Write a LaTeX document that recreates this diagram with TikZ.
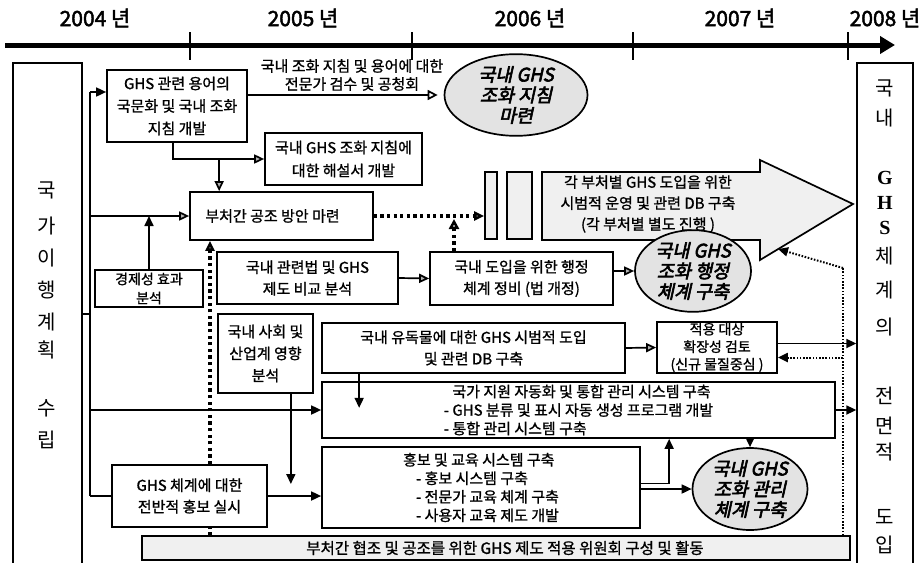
\documentclass[tikz,border=0pt]{standalone}
\usepackage{fontspec}
\setmainfont{Noto Sans CJK KR}
\newfontfamily\kr{Noto Sans CJK KR}[FakeBold=1.1]
\newfontfamily\krl{Noto Sans CJK KR}
\newfontfamily\krb{Noto Sans CJK KR}[FakeBold=2.2]
\newfontfamily\krbi{Noto Sans CJK KR}[FakeBold=3.2,FakeSlant=0.22]
\newfontfamily\serifb{Liberation Serif}
\usetikzlibrary{arrows.meta,shapes.geometric,calc}
\begin{document}
\begin{tikzpicture}[x=1pt,y=-1pt,
  box/.style={draw, line width=1.7pt, fill=white, inner sep=1pt, align=center,
    font=\kr\fontsize{15}{21.5}\selectfont},
  sidebox/.style={draw, line width=1.3pt, fill=white, inner sep=0pt},
  ell/.style={ellipse, draw, line width=1.7pt, fill=gray!22, inner sep=0pt, align=center,
    font=\krbi\fontsize{18.5}{20.5}\selectfont},
  year/.style={font=\krb\fontsize{21}{21}\selectfont, inner sep=0pt},
  vchar/.style={font=\krl\fontsize{20}{20}\selectfont, inner sep=0pt},
  conn/.style={line width=1.7pt},
  barrow/.style={conn, -{Triangle[length=10pt,width=9pt]}},
  garrow/.style={conn, -{Triangle[length=10pt,width=9pt,fill=gray!60]}},
  oarrow/.style={conn, -{Triangle[length=10pt,width=10pt,fill=white]}},
  heavydots/.style={line width=3.4pt, dash pattern=on 3.2pt off 3.4pt},
  finedots/.style={line width=1.4pt, dash pattern=on 1.6pt off 1.6pt},
  lbl/.style={font=\kr\fontsize{15}{18}\selectfont, align=center, inner sep=0pt}
]
\useasboundingbox (0,0) rectangle (923,562);

% timeline
\coordinate (tlA) at (5,45);
\coordinate (tlB) at (895,45);
\draw[line width=5pt, -{Triangle[length=15pt,width=17pt]}] (tlA) -- (tlB);
\foreach \x in {190,412,633,848} \draw[line width=2pt] (\x,32) -- (\x,60);
\node[year] (y2004) at (95,18) {2004 년};
\node[year] (y2005) at (303,18) {2005 년};
\node[year] (y2006) at (530,18) {2006 년};
\node[year] (y2007) at (740,18) {2007 년};
\node[year] (y2008) at (885,18) {2008 년};

% side boxes
\node[sidebox, minimum width=69pt, minimum height=505pt] (lbox) at (47.5,315.5) {};
\node[sidebox, minimum width=56pt, minimum height=505pt] (rbox) at (885,315.5) {};
\foreach \c/\yy [count=\i] in {국/190,가/226,이/258,행/290,계/322,획/350,수/408,립/440}
  \node[vchar] (lc\i) at (47,\yy) {\c};
\foreach \c/\yy [count=\i] in {국/88,내/118,체/256,계/290,의/327,전/396,면/426,적/452,도/517,입/545}
  \node[vchar] (rc\i) at (885,\yy) {\c};
\foreach \c/\yy [count=\i] in {G/178,H/203,S/228}
  \node[vchar, font=\serifb\bfseries\fontsize{20}{20}\selectfont] (rl\i) at (885,\yy) {\c};

% big arrow
\draw[line width=1.7pt, fill=gray!12] (542,172) -- (760,172) -- (760,160) -- (853,204)
  -- (760,260) -- (760,240) -- (542,240) -- cycle;
\node[lbl, font=\kr\fontsize{15}{21}\selectfont] (bigtxt) at (648,204)
  {각 부처별 GHS 도입을 위한\\시범적 운영 및 관련 DB 구축\\(각 부처별 별도 진행 )};
\coordinate (bigin) at (778,249);

% small rectangles
\node[draw, line width=1.7pt, fill=gray!12, minimum width=12pt, minimum height=67pt, inner sep=0pt] (r1) at (491,205.5) {};
\node[draw, line width=1.7pt, fill=gray!12, minimum width=25pt, minimum height=67pt, inner sep=0pt] (r2) at (519.5,205.5) {};

% boxes
\node[box, minimum width=140pt, minimum height=72pt, font=\kr\fontsize{15}{22.5}\selectfont] (box1) at (177,106)
  {GHS 관련 용어의\\국문화 및 국내 조화\\지침 개발};
\node[box, minimum width=157pt, minimum height=52pt, font=\kr\fontsize{15}{23}\selectfont] (box2) at (343.5,159)
  {국내 GHS 조화 지침에\\대한 해설서 개발};
\node[box, minimum width=183pt, minimum height=48pt] (coop) at (281.5,216)
  {\hspace*{-18pt}부처간 공조 방안 마련};
\node[box, minimum width=108pt, minimum height=37pt, font=\kr\fontsize{14}{19}\selectfont] (econ) at (149,288.5)
  {경제성 효과\\분석};
\node[box, minimum width=181pt, minimum height=52pt] (law) at (307.5,278)
  {국내 관련법 및 GHS\\제도 비교 분석};
\node[box, minimum width=183pt, minimum height=53pt] (admin) at (521.5,278.5)
  {국내 도입을 위한 행정\\체계 정비 (법 개정)};
\node[box, minimum width=95pt, minimum height=79pt, font=\kr\fontsize{15}{22}\selectfont] (social) at (265.5,353.5)
  {국내 사회 및\\산업계 영향\\분석};
\node[box, minimum width=303pt, minimum height=50pt] (toxic) at (473.5,348)
  {국내 유독물에 대한 GHS 시범적 도입\\및 관련 DB 구축};
\node[box, minimum width=120pt, minimum height=49pt, font=\kr\fontsize{14}{17.5}\selectfont] (scope) at (717,347.5)
  {적용 대상\\확장성 검토\\(신규 물질중심 )};
\node[box, minimum width=513pt, minimum height=56pt, align=left, font=\kr\fontsize{15}{18.5}\selectfont] (auto) at (578.5,410)
  {\phantom{- }국가 지원 자동화 및 통합 관리 시스템 구축\\- GHS 분류 및 표시 자동 생성 프로그램 개발\\- 통합 관리 시스템 구축};
\node[box, minimum width=155pt, minimum height=62pt] (promo) at (189.5,496)
  {GHS 체계에 대한\\전반적 홍보 실시};
\node[box, minimum width=318pt, minimum height=81pt, align=left, font=\kr\fontsize{15}{18.5}\selectfont] (edu) at (481,487.5)
  {홍보 및 교육 시스템 구축\\\hspace*{13pt}- 홍보 시스템 구축\\\hspace*{13pt}- 전문가 교육 체계 구축\\\hspace*{13pt}- 사용자 교육 제도 개발};
\node[box, fill=gray!12, line width=1.3pt, minimum width=708pt, minimum height=24pt, font=\kr\fontsize{15.5}{15.5}\selectfont] (banner) at (496,548)
  {\hspace*{18pt}부처간 협조 및 공조를 위한 GHS 제도 적용 위원회 구성 및 활동};

% ellipses
\node[ell, minimum width=143pt, minimum height=57pt] (ell1) at (516,95) {국내 GHS\\조화 지침\\마련};
\node[ell, minimum width=116pt, minimum height=70pt] (ell2) at (693,271) {국내 GHS\\조화 행정\\체계 구축};
\node[ell, minimum width=115pt, minimum height=82pt] (ell3) at (750,489) {국내 GHS\\조화 관리\\체계 구축};

% label over arrow
\node[lbl] (lbl1) at (352,75) {국내 조화 지침 및 용어에 대한\\전문가 검수 및 공청회};

% connectors
\coordinate (tt) at (90,92);
\coordinate (tb) at (90,496);
\draw[conn] (tt) -- (tb);
\draw[barrow] (tt) -- (tt -| box1.west);
\coordinate (lj) at (90,314);
\draw[conn] (lj -| lbox.east) -- (lj);
\draw[garrow] (coop.west -| tt) -- (coop.west);
\draw[barrow] (econ.north) -- (econ.north |- coop.west);
\draw[oarrow, shorten >=6pt] (ell1.west -| box1.east) -- (ell1.west);
\draw[garrow] ([xshift=-4pt]box1.south) |- (box2.west);
\draw[garrow] ([xshift=30pt]coop.north west |- box2.west) -- ([xshift=30pt]coop.north west);
\draw[garrow, heavydots] (coop.east) -- (coop.east -| r1.west);
\coordinate (tri) at (454,219);
\draw[oarrow, heavydots] (admin.north -| tri) -- (tri);
\draw[garrow] (law.east) -- (admin.west);
\draw[garrow] (ell2.west -| admin.east) -- (ell2.west);
\coordinate (dv) at (210,0);
\draw[heavydots] (dv |- banner.north) -- (dv |- promo.south);
\draw[garrow, heavydots] (dv |- promo.north) -- (dv |- coop.south);
\draw[barrow, shorten >=12pt] ([xshift=-23pt]social.south east) -- ([xshift=-23pt]social.south east |- promo.east);
\draw[conn] (tb) -- (promo.west);
\draw[barrow] (promo.east) -- (promo.east -| edu.west);
\draw[barrow] (auto.west -| tt) -- (auto.west);
\draw[barrow] ([xshift=38pt]toxic.south west) -- ++(0,34);
\draw[garrow] (toxic.east) -- (scope.west);
\draw[barrow] ([yshift=4pt]scope.east) -- ([yshift=4pt]scope.east -| rbox.west);
\draw[barrow] (auto.east) -- (auto.east -| rbox.west);
\coordinate (rd) at (843,268);
\draw[finedots] (rd |- banner.north) -- (rd);
\draw[barrow, finedots, line width=2pt] (rd) -- (bigin);
\coordinate (sd) at ([yshift=-10pt]scope.east);
\draw[barrow, finedots, line width=2pt] (sd -| rd) -- (sd);
\draw[barrow] ([yshift=4pt]edu.east) -| ([xshift=348pt]auto.south west);
\draw[barrow] (ell3.west -| edu.east) -- (ell3.west);
\draw[barrow] (auto.south -| ell3.north) -- (ell3.north);
\end{tikzpicture}
\end{document}
